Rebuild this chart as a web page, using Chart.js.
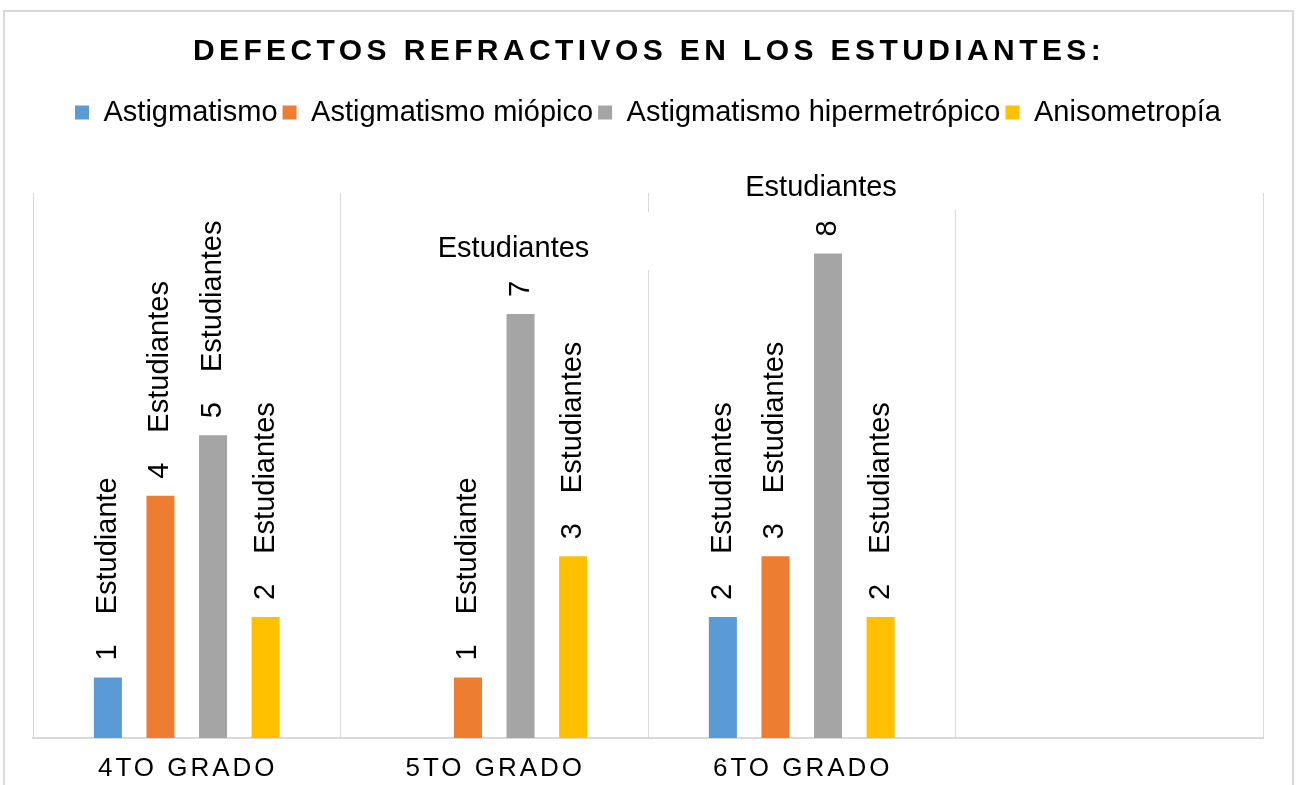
<!DOCTYPE html>
<html>
<head>
<meta charset="utf-8">
<script src="https://cdn.jsdelivr.net/npm/chart.js@4.4.1/dist/chart.umd.min.js"></script>
<style>
  body { margin: 0; background: #fff; }
  #wrap { position: relative; width: 1300px; height: 785px; overflow: hidden; }
  #frame { position: absolute; left: 3px; top: 10px; width: 1287px; height: 800px;
           border: 2px solid #d9d9d9; border-bottom: none; }
  canvas { position: absolute; left: 0; top: 0; }
</style>
</head>
<body>
<div id="wrap">
  <div id="frame"></div>
  <canvas id="chart" width="1300" height="785"></canvas>
</div>
<script>
const title = 'DEFECTOS REFRACTIVOS EN LOS ESTUDIANTES:';
const categories = ['4TO GRADO', '5TO GRADO', '6TO GRADO', ''];
const seriesNames = ['Astigmatismo', 'Astigmatismo miópico', 'Astigmatismo hipermetrópico', 'Anisometropía'];
const astigmatismo = [1, null, 2, null];
const miopico = [4, 1, 3, null];
const hipermetropico = [5, 7, 8, null];
const anisometropia = [2, 3, 2, null];
const colors = ['#5B9BD5', '#ED7D31', '#A5A5A5', '#FFC000'];

const FONT = '"Liberation Sans", Arial, sans-serif';

// title + category labels drawn with letter spacing
const textPlugin = {
  id: 'texts',
  afterDraw(chart) {
    const ctx = chart.ctx;
    ctx.save();
    ctx.fillStyle = '#000';
    ctx.textAlign = 'center';
    ctx.textBaseline = 'middle';
    ctx.font = 'bold 30px ' + FONT;
    ctx.letterSpacing = '4.4px';
    ctx.fillText(title, 649, 52);
    ctx.font = '26px ' + FONT;
    ctx.letterSpacing = '3px';
    const xs = chart.scales.x;
    categories.forEach((c, i) => {
      if (c) ctx.fillText(c, xs.getPixelForValue(i) + 1, 769);
    });
    ctx.restore();
  }
};

// value labels: "n   Estudiante(s)", rotated
const labelPlugin = {
  id: 'valueLabels',
  afterDatasetsDraw(chart) {
    const ctx = chart.ctx;
    const area = chart.chartArea;
    ctx.save();
    ctx.font = '29px ' + FONT;
    ctx.fillStyle = '#000';
    chart.data.datasets.forEach((ds, di) => {
      const meta = chart.getDatasetMeta(di);
      ds.data.forEach((v, j) => {
        if (!v) return;
        const bar = meta.data[j];
        const word = v === 1 ? 'Estudiante' : 'Estudiantes';
        const s = bar.y - 17;
        const vw = ctx.measureText(String(v)).width;
        const ww = ctx.measureText(word).width;
        const gap = 30;
        ctx.textAlign = 'left';
        ctx.textBaseline = 'middle';
        if (s - vw - gap - ww >= area.top) {
          ctx.save();
          ctx.translate(bar.x, s);
          ctx.rotate(-Math.PI / 2);
          ctx.fillText(String(v), 0, 0);
          ctx.fillText(word, vw + gap, 0);
          ctx.restore();
        } else {
          // too tall: value stays rotated, word goes flat above it
          ctx.save();
          ctx.translate(bar.x, s);
          ctx.rotate(-Math.PI / 2);
          ctx.fillText(String(v), 0, 0);
          ctx.restore();
          const base = s - vw - 24;
          ctx.fillStyle = '#fff';
          ctx.fillRect(bar.x - 145, base - 45, 290, 58);
          ctx.fillStyle = '#000';
          ctx.textAlign = 'center';
          ctx.textBaseline = 'alphabetic';
          ctx.fillText(word, bar.x - 7, base);
        }
      });
    });
    ctx.restore();
  }
};

// room between legend and plot area
const legendSpace = {
  id: 'legendSpace',
  beforeInit(chart) {
    const fit = chart.legend.fit;
    chart.legend.fit = function () {
      fit.bind(chart.legend)();
      this.height = 100;
    };
  }
};

const seriesData = [astigmatismo, miopico, hipermetropico, anisometropia];

new Chart(document.getElementById('chart'), {
  type: 'bar',
  data: {
    labels: categories,
    datasets: seriesData.map((d, i) => ({
      label: seriesNames[i],
      data: d,
      backgroundColor: colors[i],
      categoryPercentage: 0.684,
      barPercentage: 0.533
    }))
  },
  options: {
    responsive: false,
    animation: false,
    layout: { padding: { top: 93, left: 33, right: 37, bottom: 47 } },
    plugins: {
      legend: {
        position: 'top',
        labels: {
          boxWidth: 14, boxHeight: 14, padding: 5, color: '#000',
          font: { size: 29, family: FONT }
        }
      },
      tooltip: { enabled: false }
    },
    scales: {
      x: {
        grid: { color: '#d9d9d9', lineWidth: 1, offset: true, drawTicks: false },
        border: { color: '#d9d9d9', width: 2 },
        ticks: { display: false }
      },
      y: { display: false, min: 0, max: 9 }
    }
  },
  plugins: [legendSpace, labelPlugin, textPlugin]
});
</script>
</body>
</html>
